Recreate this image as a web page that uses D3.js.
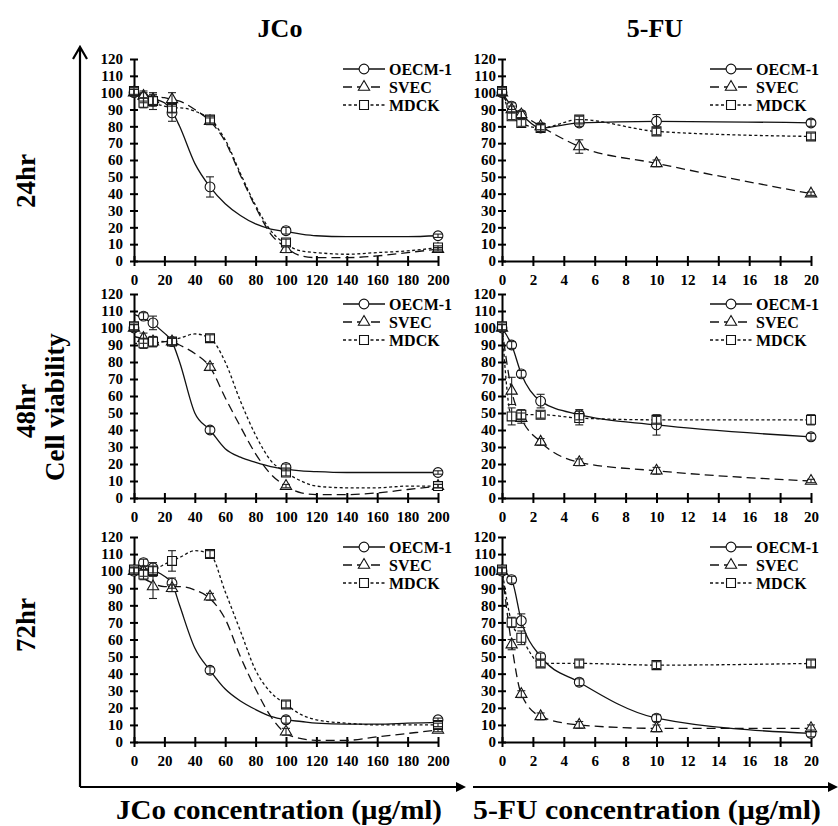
<!DOCTYPE html>
<html>
<head>
<meta charset="utf-8">
<title>Cell viability</title>
<script src="https://d3js.org/d3.v7.min.js"></script>
<style>
body { margin: 0; background: #fff; }
svg text { font-family: "Liberation Serif", "Times New Roman", serif; font-weight: bold; fill: #000; }
</style>
</head>
<body>
<div id="container"></div>
<script>
// concentrations (x values)
var jcoConc = [0, 6.25, 12.5, 25, 50, 100, 200];
var fuConc = [0, 0.625, 1.25, 2.5, 5, 10, 20];
var jcoFitConc = [0, 10, 20, 25, 30, 40, 50, 60, 70, 80, 90, 100, 110, 120, 140, 160, 180, 200];

var cellLines = ["OECM-1", "SVEC", "MDCK"];
var timeLabels = ["24hr", "48hr", "72hr"];
var drugLabels = ["JCo", "5-FU"];
var yTickLabels = [0, 10, 20, 30, 40, 50, 60, 70, 80, 90, 100, 110, 120];
var jcoTickLabels = [0, 20, 40, 60, 80, 100, 120, 140, 160, 180, 200];
var fuTickLabels = [0, 2, 4, 6, 8, 10, 12, 14, 16, 18, 20];

// JCo, measured points (mean, error)
var jco24Oecm = [100, 97, 95, 88, 44, 18, 15], jco24OecmErr = [2, 3, 3, 5, 6, 2, 1];
var jco24Svec = [100, 98, 96, 96, 83, 7, 7],   jco24SvecErr = [2, 3, 3, 4, 2, 2, 1];
var jco24Mdck = [101, 94, 95, 91, 84, 11, 8],  jco24MdckErr = [2, 3, 5, 3, 2, 2, 1];
var jco48Oecm = [100, 107, 103, 92, 40, 18, 15], jco48OecmErr = [2, 2, 4, 2, 2, 2, 1];
var jco48Svec = [100, 94, 92, 92, 77, 7, 7],     jco48SvecErr = [2, 3, 3, 2, 2, 1, 1];
var jco48Mdck = [101, 91, 92, 92, 94, 15, 7],    jco48MdckErr = [2, 3, 3, 2, 2, 2, 1];
var jco72Oecm = [100, 105, 102, 93, 42, 13, 13], jco72OecmErr = [2, 2, 3, 3, 2, 2, 1];
var jco72Svec = [100, 100, 91, 90, 85, 6, 7],    jco72SvecErr = [2, 3, 7, 2, 2, 2, 1];
var jco72Mdck = [101, 98, 100, 106, 110, 22, 10], jco72MdckErr = [2, 3, 3, 6, 2, 2, 1];

// JCo, fitted curves
var fit24Oecm = [100, 97, 94, 89, 80, 58, 44, 34, 27, 22, 19, 17.5, 16, 15, 14.5, 14.5, 14.5, 15];
var fit24Svec = [100, 98, 97, 96, 95, 90, 83, 71, 51, 32, 16, 8, 3, 2, 2, 3, 5, 7];
var fit24Mdck = [100, 95, 92, 91, 91, 89, 84, 72, 52, 33, 18, 10, 6, 5, 4, 5, 6, 8];
var fit48Oecm = [108, 104, 97, 92, 80, 50, 40, 29, 24, 21, 18.5, 17, 16, 15.5, 15, 15, 15, 15];
var fit48Svec = [95, 93, 92, 92, 90, 85, 77, 59, 42, 26, 14, 7, 3, 2, 2, 3, 5, 7];
var fit48Mdck = [91, 91, 92, 93, 94, 96.5, 94, 80, 57, 37, 22, 15, 10, 7, 6, 6, 7, 7];
var fit72Oecm = [102, 101, 97, 93, 80, 55, 42, 31, 24, 19, 15, 13, 12, 11, 10.5, 10.5, 11, 11.5];
var fit72Svec = [100, 94, 91, 91, 91, 89, 84, 72, 50, 31, 15, 5, 2, 1, 1, 3, 5, 7];
var fit72Mdck = [100, 100, 104, 106, 108, 112, 110, 88, 65, 42, 29, 22, 16, 13, 11, 10, 10, 10];

// 5-FU, measured points (mean, error)
var fu24Oecm = [100, 92, 87, 79, 82, 83, 82], fu24OecmErr = [2, 2, 2, 2, 2, 4, 2];
var fu24Svec = [100, 90, 87, 80, 68, 58, 40], fu24SvecErr = [2, 2, 2, 2, 4, 2, 1];
var fu24Mdck = [101, 86, 82, 79, 84, 77, 74], fu24MdckErr = [2, 2, 2, 2, 2, 2, 2];
var fu48Oecm = [100, 90, 73, 57, 49, 43, 36], fu48OecmErr = [2, 2, 2, 4, 3, 6, 2];
var fu48Svec = [100, 63, 47, 33, 21, 16, 10], fu48SvecErr = [2, 8, 3, 2, 2, 2, 1];
var fu48Mdck = [101, 48, 49, 49, 47, 46, 46], fu48MdckErr = [2, 5, 3, 2, 4, 2, 3];
var fu72Oecm = [100, 95, 71, 50, 35, 14, 5],  fu72OecmErr = [2, 2, 4, 2, 2, 2, 2];
var fu72Svec = [100, 57, 28, 15, 10, 8, 8],   fu72SvecErr = [2, 3, 2, 2, 2, 2, 2];
var fu72Mdck = [101, 70, 61, 46, 46, 45, 46], fu72MdckErr = [2, 3, 4, 2, 2, 2, 2];

//Layout
var colX = [[134, 438], [502, 811]];
var rowY = [[261, 59], [498, 294], [742, 537]];
var legendX = [343, 710];
var labelGap = [7, 2];
var dashes = [null, "9,5", "3,2.5"];
var symbols = [d3.symbolCircle, d3.symbolTriangle, d3.symbolSquare];
var symbolSizes = [75, 55, 80];

var panels = [
	{row: 0, col: 0, pts: [jco24Oecm, jco24Svec, jco24Mdck], err: [jco24OecmErr, jco24SvecErr, jco24MdckErr], fit: [fit24Oecm, fit24Svec, fit24Mdck]},
	{row: 1, col: 0, pts: [jco48Oecm, jco48Svec, jco48Mdck], err: [jco48OecmErr, jco48SvecErr, jco48MdckErr], fit: [fit48Oecm, fit48Svec, fit48Mdck]},
	{row: 2, col: 0, pts: [jco72Oecm, jco72Svec, jco72Mdck], err: [jco72OecmErr, jco72SvecErr, jco72MdckErr], fit: [fit72Oecm, fit72Svec, fit72Mdck]},
	{row: 0, col: 1, pts: [fu24Oecm, fu24Svec, fu24Mdck], err: [fu24OecmErr, fu24SvecErr, fu24MdckErr]},
	{row: 1, col: 1, pts: [fu48Oecm, fu48Svec, fu48Mdck], err: [fu48OecmErr, fu48SvecErr, fu48MdckErr]},
	{row: 2, col: 1, pts: [fu72Oecm, fu72Svec, fu72Mdck], err: [fu72OecmErr, fu72SvecErr, fu72MdckErr]}
];

var svg = d3.select("#container")
	.append("svg")
	.attr("width", 838)
	.attr("height", 826);

panels.forEach(function(p) {
	var conc = p.col == 0 ? jcoConc : fuConc;
	var x = d3.scaleLinear().domain(p.col == 0 ? [0, 200] : [0, 20]).range(colX[p.col]);
	var y = d3.scaleLinear().domain([0, 120]).range(rowY[p.row]);
	var g = svg.append("g");

	//Axes, ticks cross the axis line
	var yAxis = g.append("g")
		.attr("transform", "translate(" + x(0) + ",0)")
		.call(d3.axisLeft(y).tickValues(yTickLabels).tickSizeInner(4).tickSizeOuter(0).tickPadding(labelGap[p.col]));
	yAxis.selectAll(".tick line").attr("x1", 4);

	var xAxis = g.append("g")
		.attr("transform", "translate(0," + y(0) + ")")
		.call(d3.axisBottom(x).tickValues(p.col == 0 ? jcoTickLabels : fuTickLabels).tickSizeInner(5).tickSizeOuter(0).tickPadding(8));
	xAxis.selectAll(".tick line").attr("y1", -5);

	[yAxis, xAxis].forEach(function(a) {
		a.attr("font-family", "Liberation Serif").attr("font-size", 15);
		a.select(".domain").attr("stroke-width", 2);
		a.selectAll(".tick line").attr("stroke-width", 2);
	});

	//Lines: fitted curves for JCo, point to point for 5-FU
	p.pts.forEach(function(vals, i) {
		var xs = p.fit ? jcoFitConc : conc;
		var ys = p.fit ? p.fit[i] : vals;
		var line = d3.line()
			.x(function(d) { return x(d); })
			.y(function(d, j) { return y(ys[j]); })
			.curve(d3.curveMonotoneX);
		g.append("path")
			.attr("d", line(xs))
			.attr("fill", "none")
			.attr("stroke", "#111")
			.attr("stroke-width", 1.3)
			.attr("stroke-dasharray", dashes[i]);
	});

	//Markers
	p.pts.forEach(function(vals, i) {
		g.selectAll(null)
			.data(vals)
			.enter()
			.append("path")
			.attr("d", d3.symbol().type(symbols[i]).size(symbolSizes[i]))
			.attr("transform", function(d, j) { return "translate(" + x(conc[j]) + "," + y(d) + ")"; })
			.attr("fill", "#fff")
			.attr("stroke", "#111")
			.attr("stroke-width", 1.1);
	});

	//Error bars
	p.pts.forEach(function(vals, i) {
		var eb = g.append("g").attr("stroke", "#222").attr("stroke-width", 1.1);
		vals.forEach(function(v, j) {
			var cx = x(conc[j]), e = p.err[i][j];
			eb.append("line").attr("x1", cx).attr("x2", cx).attr("y1", y(v - e)).attr("y2", y(v + e));
			eb.append("line").attr("x1", cx - 4).attr("x2", cx + 4).attr("y1", y(v - e)).attr("y2", y(v - e));
			eb.append("line").attr("x1", cx - 4).attr("x2", cx + 4).attr("y1", y(v + e)).attr("y2", y(v + e));
		});
	});

	//Legend
	cellLines.forEach(function(name, i) {
		var lx = legendX[p.col], ly = y(120) + 10 + i * 18;
		g.append("line")
			.attr("x1", lx).attr("x2", lx + 42)
			.attr("y1", ly).attr("y2", ly)
			.attr("stroke", "#111")
			.attr("stroke-width", 1.3)
			.attr("stroke-dasharray", dashes[i]);
		g.append("path")
			.attr("d", d3.symbol().type(symbols[i]).size(symbolSizes[i]))
			.attr("transform", "translate(" + (lx + 21) + "," + ly + ")")
			.attr("fill", "#fff")
			.attr("stroke", "#111")
			.attr("stroke-width", 1.1);
		g.append("text")
			.attr("x", lx + 46)
			.attr("y", ly)
			.attr("dy", "0.35em")
			.attr("font-size", 16)
			.text(name);
	});
});

//Big frame arrows
var arrows = svg.append("g").attr("stroke", "#000").attr("stroke-width", 2.2).attr("fill", "none");
arrows.append("path").attr("d", "M80,787V47M73,59L80,47L87,59");
arrows.append("path").attr("d", "M80,787H458");
arrows.append("path").attr("d", "M473,787H832");
svg.append("path").attr("d", "M456,782L466,787L456,792Z").attr("fill", "#000");
svg.append("path").attr("d", "M828,782L838,787L828,792Z").attr("fill", "#000");

//Column titles
drugLabels.forEach(function(name, i) {
	svg.append("text")
		.attr("x", [280, 655][i])
		.attr("y", 37)
		.attr("text-anchor", "middle")
		.attr("font-size", 26)
		.text(name);
});

//Row titles
var rowCenters = [181, 411, 625];
timeLabels.forEach(function(name, i) {
	svg.append("text")
		.attr("transform", "translate(35," + rowCenters[i] + ") rotate(-90)")
		.attr("text-anchor", "middle")
		.attr("font-size", 27)
		.text(name);
});
svg.append("text")
	.attr("transform", "translate(64,407) rotate(-90)")
	.attr("text-anchor", "middle")
	.attr("font-size", 27)
	.text("Cell viability");

//Axis titles
svg.append("text")
	.attr("x", 279).attr("y", 819)
	.attr("text-anchor", "middle")
	.attr("font-size", 27)
	.attr("textLength", 326)
	.attr("lengthAdjust", "spacingAndGlyphs")
	.text("JCo concentration (µg/ml)");
svg.append("text")
	.attr("x", 647).attr("y", 819)
	.attr("text-anchor", "middle")
	.attr("font-size", 27)
	.attr("textLength", 348)
	.attr("lengthAdjust", "spacingAndGlyphs")
	.text("5-FU concentration (µg/ml)");
</script>
</body>
</html>
